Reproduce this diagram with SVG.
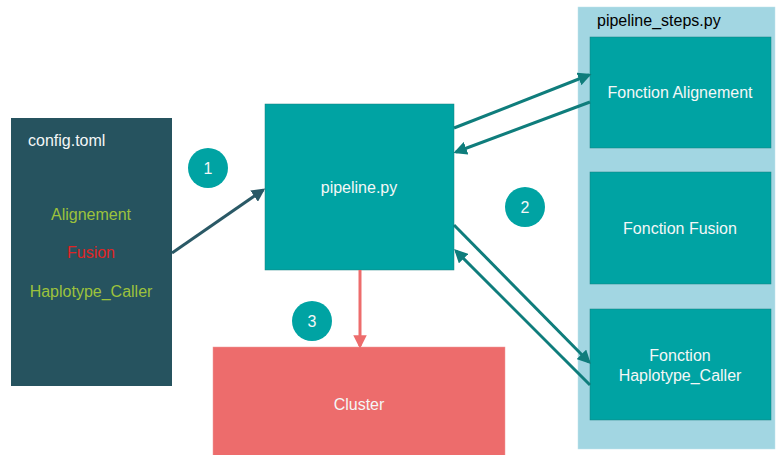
<svg xmlns="http://www.w3.org/2000/svg" width="776" height="455" viewBox="0 0 776 455">
<defs>
<style>
text{font-family:"Liberation Sans",Arial,sans-serif;font-size:16px}
.w{fill:#f4f7f7}
.c{text-anchor:middle}
.teal{fill:#00a3a3;stroke:#14807f;stroke-width:0.5}
.num{fill:#00a3a3}
.tl{stroke:#0f7d7c;stroke-width:3;fill:none}
</style>
<marker id="ah" viewBox="0 0 10 10" refX="8" refY="5" markerWidth="4.5" markerHeight="4.5" orient="auto"><path d="M0,0L10,5L0,10z" fill="#0f7d7c"/></marker>
<marker id="ahd" viewBox="0 0 10 10" refX="8" refY="5" markerWidth="4.5" markerHeight="4.5" orient="auto"><path d="M0,0L10,5L0,10z" fill="#2a5966"/></marker>
<marker id="ahr" viewBox="0 0 10 10" refX="8" refY="5" markerWidth="4.5" markerHeight="4.5" orient="auto"><path d="M0,0L10,5L0,10z" fill="#ed6c6c"/></marker>
</defs>
<rect width="776" height="455" fill="#ffffff"/>
<g id="pipeline_steps">
<rect x="578" y="7" width="197" height="442" fill="#a2d6e2" stroke="#bfe3ec" stroke-width="0.5"/>
<text x="597" y="26">pipeline_steps.py</text>
</g>
<g id="config">
<rect x="11" y="118" width="161" height="268" fill="#26535f"/>
<text x="28" y="146" class="w">config.toml</text>
<text x="91" y="220" class="c" fill="#9dc23c">Alignement</text>
<text x="91" y="258" class="c" fill="#e02424">Fusion</text>
<text x="91" y="297" class="c" fill="#9dc23c">Haplotype_Caller</text>
</g>
<g id="pipeline">
<rect x="265" y="104" width="189" height="166" class="teal"/>
<text x="359" y="193" class="w c">pipeline.py</text>
</g>
<g id="align">
<rect x="590" y="37" width="181" height="111" class="teal"/>
<text x="680" y="98" class="w c">Fonction Alignement</text>
</g>
<g id="fusion">
<rect x="590" y="172" width="181" height="112" class="teal"/>
<text x="680" y="234" class="w c">Fonction Fusion</text>
</g>
<g id="haplo">
<rect x="590" y="309" width="181" height="111" class="teal"/>
<text x="680" y="361" class="w c">Fonction</text>
<text x="680" y="381" class="w c">Haplotype_Caller</text>
</g>
<g id="cluster">
<rect x="213" y="347" width="292" height="110" fill="#ed6c6c" stroke="#f09a9a" stroke-width="0.5"/>
<text x="359" y="410" class="w c">Cluster</text>
</g>
<g id="step1"><circle cx="208" cy="168" r="20" class="num"/><text x="208" y="174" class="w c">1</text></g>
<g id="step2"><circle cx="525" cy="207" r="20" class="num"/><text x="525" y="213" class="w c">2</text></g>
<g id="step3"><circle cx="312" cy="321" r="20" class="num"/><text x="312" y="327" class="w c">3</text></g>
<g id="connectors">
<line x1="172" y1="253" x2="263" y2="190" stroke="#2a5966" stroke-width="3" marker-end="url(#ahd)"/>
<line x1="454" y1="128" x2="589" y2="75" class="tl" marker-end="url(#ah)"/>
<line x1="590" y1="102" x2="456" y2="152" class="tl" marker-end="url(#ah)"/>
<line x1="454" y1="225" x2="589" y2="362" class="tl" marker-end="url(#ah)"/>
<line x1="590" y1="385" x2="456" y2="251" class="tl" marker-end="url(#ah)"/>
<line x1="360" y1="270" x2="360" y2="346" stroke="#ed6c6c" stroke-width="3" marker-end="url(#ahr)"/>
</g>
</svg>
